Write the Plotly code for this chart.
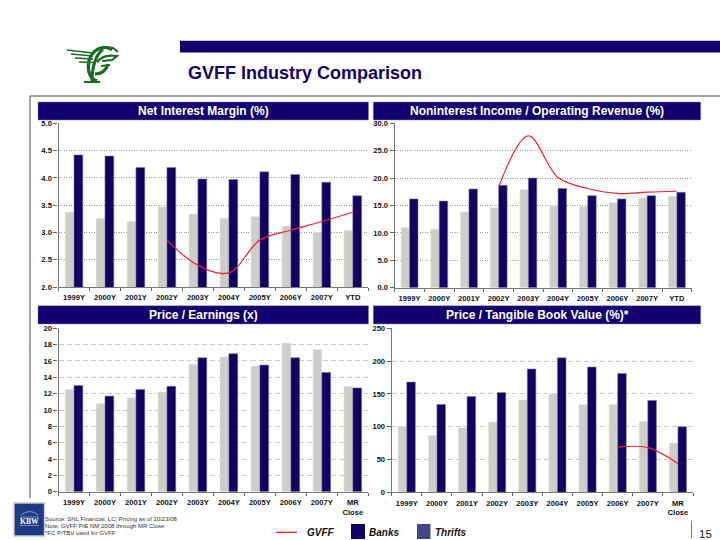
import plotly.graph_objects as go

NAVY = "#10005F"
HEAD = "#13006E"
GREY = "#CFCDC7"
RED = "#F5202A"
FONT = "Liberation Sans"

years_a = ["1999Y", "2000Y", "2001Y", "2002Y", "2003Y", "2004Y", "2005Y", "2006Y", "2007Y", "YTD"]
years_b = ["1999Y", "2000Y", "2001Y", "2002Y", "2003Y", "2004Y", "2005Y", "2006Y", "2007Y", "MR<br>Close"]

nim_thrifts = [3.37, 3.26, 3.20, 3.47, 3.34, 3.26, 3.29, 3.12, 3.00, 3.04]
nim_banks = [4.42, 4.40, 4.19, 4.19, 3.98, 3.97, 4.11, 4.06, 3.92, 3.67]
nim_gvff = [None, None, None, 2.86, 2.40, 2.26, 2.86, 3.04, 3.20, 3.37]

nii_thrifts = [11.0, 10.7, 13.8, 14.6, 17.9, 14.9, 14.8, 15.5, 16.4, 16.7]
nii_banks = [16.2, 15.8, 18.0, 18.7, 20.0, 18.1, 16.8, 16.2, 16.8, 17.4]
nii_gvff = [None, None, None, 18.4, 27.7, 20.1, 18.1, 17.2, 17.45, 17.6]

pe_thrifts = [12.5, 10.8, 11.5, 12.2, 15.6, 16.5, 15.4, 18.2, 17.4, 12.9]
pe_banks = [13.0, 11.7, 12.5, 12.9, 16.4, 16.9, 15.5, 16.4, 14.6, 12.7]

ptb_thrifts = [100, 87, 98, 107, 141, 150, 134, 134, 108, 75]
ptb_banks = [168, 134, 146, 152, 188, 205, 191, 181, 140, 100]
ptb_gvff = [None, None, None, None, None, None, None, 69, 68, 44]

footnotes = ["Source: SNL Financial, LC; Pricing as of 10/23/08",
             "Note: GVFF P/E NM 2008 through MR Close",
             "*FC P/TBV used for GVFF"]


def px(v):
    return v / 720


def py(v):
    return 1 - v / 540


panels = [
    dict(title="Net Interest Margin (%)", cats=years_a, thrifts=nim_thrifts, banks=nim_banks, gvff=nim_gvff,
         x=(58.5, 368.3), y=(123.3, 287), rng=(2, 5), dtick=0.5, fmt=".1f", dash="1px,1.5px", grid="#999999",
         head=(38, 368.5, 102, 120)),
    dict(title="Noninterest Income / Operating Revenue (%)", cats=years_a, thrifts=nii_thrifts, banks=nii_banks, gvff=nii_gvff,
         x=(394.7, 691.7), y=(123.3, 287.7), rng=(0, 30), dtick=5, fmt=".1f", dash="1px,1.5px", grid="#999999",
         head=(373.3, 700.7, 102, 120)),
    dict(title="Price / Earnings (x)", cats=years_b, thrifts=pe_thrifts, banks=pe_banks, gvff=None,
         x=(58.5, 368.3), y=(328.3, 491.7), rng=(0, 20), dtick=2, fmt="d", dash="5px,3px", grid="#cccccc",
         head=(38, 368.5, 305.7, 324)),
    dict(title="Price / Tangible Book Value (%)*", cats=years_b, thrifts=ptb_thrifts, banks=ptb_banks, gvff=ptb_gvff,
         x=(391.7, 693), y=(328.3, 492.3), rng=(0, 250), dtick=50, fmt="d", dash="5px,3px", grid="#cccccc",
         head=(373.3, 700.7, 305.7, 324)),
]

fig = go.Figure()
shapes = []
annotations = []


def rect(x0, x1, y0, y1, fill, line=None, lw=0):
    shapes.append(dict(type="rect", xref="paper", yref="paper", x0=px(x0), x1=px(x1), y0=py(y0), y1=py(y1),
                       fillcolor=fill, line=dict(color=line or fill, width=lw), layer="above"))


def seg(x0, y0, x1, y1, color, w):
    shapes.append(dict(type="line", xref="paper", yref="paper", x0=px(x0), x1=px(x1), y0=py(y0), y1=py(y1),
                       line=dict(color=color, width=w), layer="above"))


def curve(path, color, w):
    out, n = [], 0
    for t in path.split():
        if t.isalpha():
            out.append(t)
        else:
            out.append(f"{px(float(t)):.5f}" if n % 2 == 0 else f"{py(float(t)):.5f}")
            n += 1
    shapes.append(dict(type="path", xref="paper", yref="paper", layer="above", path=" ".join(out),
                       line=dict(color=color, width=w)))


def label(x, y, text, size, color="#000000", weight=400, anchor="center", italic=False, family=FONT):
    annotations.append(dict(xref="paper", yref="paper", x=px(x), y=py(y), text=text, showarrow=False,
                            xanchor=anchor, yanchor="middle", align="left", borderpad=0, borderwidth=0,
                            font=dict(family=family, size=size, color=color, weight=weight,
                                      style="italic" if italic else "normal")))


layout_axes = {}
for i, p in enumerate(panels, start=1):
    sx = "" if i == 1 else str(i)
    fig.add_trace(go.Bar(x=p["cats"], y=p["thrifts"], name="Thrifts", xaxis="x" + sx, yaxis="y" + sx,
                         marker=dict(color=GREY, line=dict(color="#E6E5E1", width=0.6))))
    fig.add_trace(go.Bar(x=p["cats"], y=p["banks"], name="Banks", xaxis="x" + sx, yaxis="y" + sx,
                         marker=dict(color=NAVY, line=dict(color="#7C78AE", width=0.6))))
    if p["gvff"] is not None:
        fig.add_trace(go.Scatter(x=p["cats"], y=p["gvff"], name="GVFF", mode="lines", xaxis="x" + sx, yaxis="y" + sx,
                                 line=dict(color=RED, width=1.2, shape="spline", smoothing=1.0)))
    tick_font = dict(family=FONT, size=7.6, color="#111111", weight=700)
    layout_axes["xaxis" + sx] = dict(
        domain=[px(p["x"][0]), px(p["x"][1])], anchor="y" + sx, type="category", automargin=False,
        categoryorder="array", categoryarray=p["cats"], tickson="boundaries",
        ticks="outside", ticklen=3, tickwidth=1, tickcolor="#666666",
        showline=True, linecolor="#777777", linewidth=1.2, showgrid=False,
        tickfont=tick_font, ticklabelstandoff=3, tickangle=0, fixedrange=True)
    layout_axes["yaxis" + sx] = dict(
        domain=[py(p["y"][1]), py(p["y"][0])], anchor="x" + sx, range=list(p["rng"]), dtick=p["dtick"],
        automargin=False, tickformat=p["fmt"], ticks="outside", ticklen=4, tickwidth=1, tickcolor="#666666",
        showline=True, linecolor="#777777", linewidth=1.2, showgrid=True, gridcolor=p["grid"], gridwidth=0.8,
        griddash=p["dash"], zeroline=False, tickfont=tick_font, fixedrange=True)
    x0, x1, y0, y1 = p["head"]
    rect(x0, x1, y0, y1, HEAD, "#8B87BC", 0.5)
    label((x0 + x1) / 2, (y0 + y1) / 2 + 0.3, p["title"], 12, "#FFFFFF", 700)

# Page furniture
rect(180, 720, 40.8, 52.6, HEAD)
label(304.5, 73, "GVFF Industry Comparison", 18, HEAD, 700)
seg(30, 96, 720, 96, "#86827E", 1.3)
seg(30, 96, 30, 498, "#86827E", 1.5)

# Carrier logo: wing strokes, oval and letter strokes
GREEN = "#1C6B22"
for y_a, y_b, x_a in [(50, 53, 67), (54, 56, 71), (58, 59, 75), (62, 62.5, 79)]:
    seg(x_a, y_a, 93, y_b, GREEN, 1.4)
for path, w in [
    ("M 112 50 C 104 44 92 49 89 61 C 87 71 90 79 97 81", 3.4),
    ("M 103 49 C 95 56 92 68 92 82", 3.0),
    ("M 84 82 L 100 82", 2.0),
    ("M 97 62 C 102 56 108 55 117 56 L 112 60 L 102 61", 2.2),
    ("M 95 74 C 101 74 106 71 108 64", 3.0),
    ("M 101 66 L 110 65", 2.0),
    ("M 106 47 L 113 48 L 118 52", 2.0),
]:
    curve(path, GREEN, w)

# KBW badge
rect(14, 44.5, 503, 536, "#1C3A85", "#C8C8C4", 1.4)
seg(20, 517, 39, 517, "#B9C3DC", 0.6)
seg(20, 525.5, 39, 525.5, "#B9C3DC", 0.6)
curve("M 21 515 Q 29.5 508 38 515", "#B9C3DC", 0.7)
label(29.3, 521.3, "KBW", 7.6, "#FFFFFF", 700, family="Liberation Serif")

for yy, t in zip((518.7, 526, 533), footnotes):
    label(45, yy, t, 6.0, "#333333", anchor="left")

# Legend
seg(276, 532.3, 297, 532.3, RED, 1.3)
label(307, 532.6, "GVFF", 10, "#111111", 700, "left", True)
rect(351, 365, 524, 539, HEAD)
label(369, 532.6, "Banks", 10, "#111111", 700, "left", True)
rect(417, 430.5, 524, 539, "#45458F")
label(435, 532.6, "Thrifts", 10, "#111111", 700, "left", True)

seg(691.5, 521, 691.5, 538, "#777777", 1)
label(705, 533.5, "15", 11.5, "#222222")

fig.update_layout(
    width=720, height=540, autosize=False, margin=dict(l=0, r=0, t=0, b=0, pad=0),
    paper_bgcolor="#FFFFFF", plot_bgcolor="#FFFFFF", showlegend=False,
    barmode="group", bargap=0.43, bargroupgap=0,
    shapes=shapes, annotations=annotations, font=dict(family=FONT),
    **layout_axes)

fig.write_html("out.html", config={"displayModeBar": False},
               post_script="document.body.style.margin='0';document.documentElement.style.overflow='hidden';")
